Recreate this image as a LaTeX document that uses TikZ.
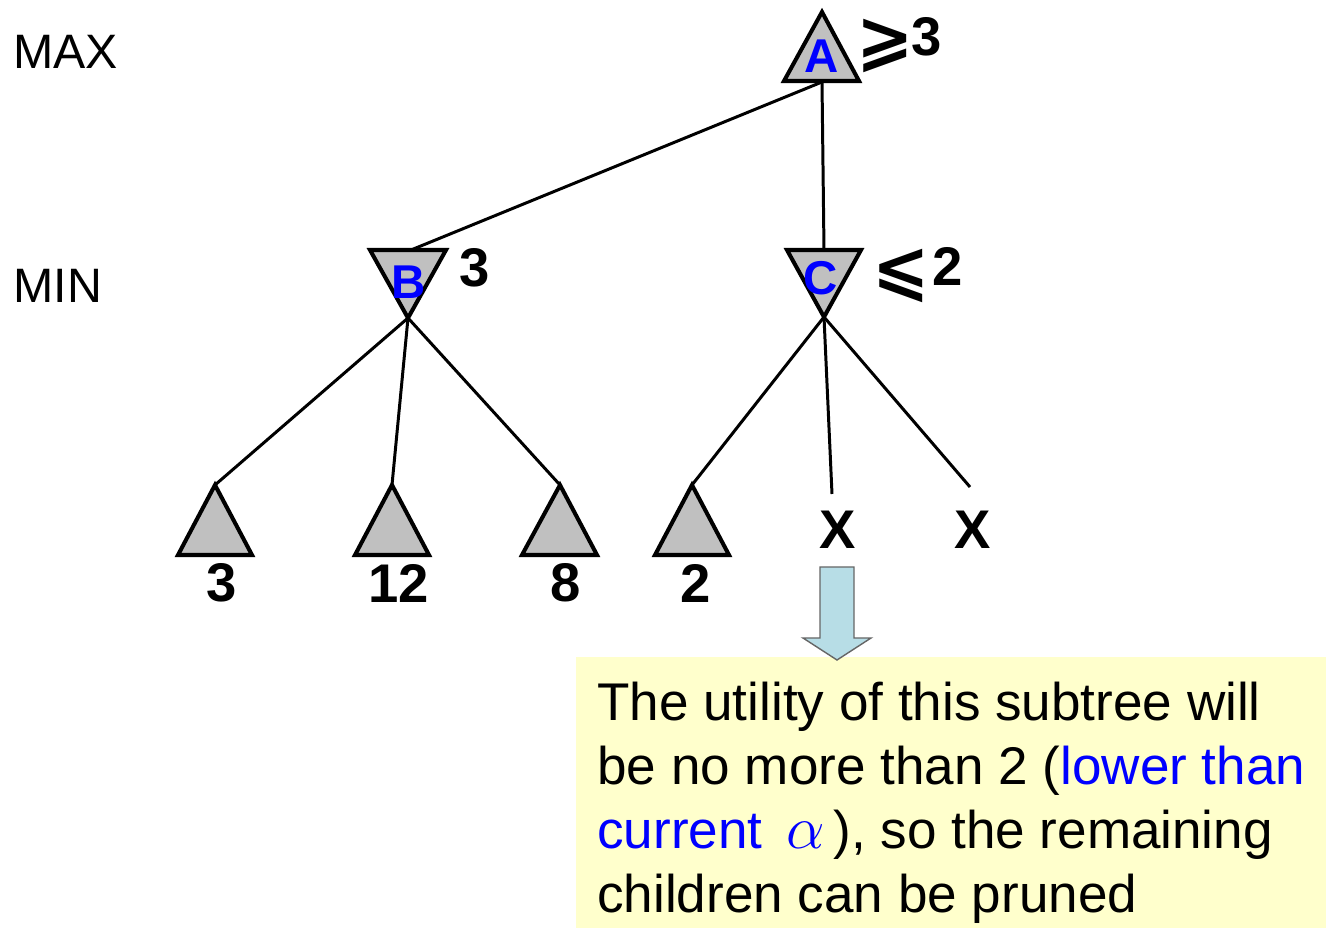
\documentclass[tikz,border=0pt]{standalone}
\usepackage{amsmath}
\usepackage{amssymb}
\usepackage{fontspec}
\setmainfont{Liberation Sans}
\newfontfamily\symbfont{DejaVu Sans}
\usepackage{tikz}
\usetikzlibrary{calc}
\definecolor{trigray}{RGB}{192,192,192}
\definecolor{arrowblue}{RGB}{183,221,230}
\definecolor{noteyellow}{RGB}{255,255,204}

\begin{document}
\begin{tikzpicture}[x=0.02cm,y=-0.02cm,
    tri/.style={fill=trigray,draw=black,line width=2.3pt},
    edge/.style={line width=1.7pt},
    letter/.style={text=blue,font=\fontsize{27}{27}\selectfont\bfseries,inner sep=0},
    value/.style={font=\fontsize{31}{31}\selectfont\bfseries,inner sep=0},
    bound/.style={font=\fontsize{39}{39}\selectfont\symbfont\bfseries,inner sep=0},
    level/.style={font=\fontsize{27.5}{27.5}\selectfont,inner sep=0,anchor=west}]
      \useasboundingbox (0,0) rectangle (1326,928);

      % levels
      \node[level] (max) at (13,52) {MAX};
      \node[level] (min) at (13,286) {MIN};

      % max node
      \filldraw[tri] (784,81) -- (822,12) -- (859,81) -- cycle;
      \coordinate (A) at (822,82);
      \node[letter] (lA) at (822,56) {A};
      \node[bound] (geA) at (885,46) {⩾};
      \node[value] (vA) at (927,37) {3};

      % min nodes
      \filldraw[tri] (370,250) -- (446,250) -- (408,318) -- cycle;
      \coordinate (B) at (411,250);
      \coordinate (Bt) at (408,318);
      \node[letter] (lB) at (409,282) {B};
      \node[value] (vB) at (475,268) {3};

      \filldraw[tri] (787,250) -- (861,250) -- (824,317) -- cycle;
      \coordinate (C) at (824,250);
      \coordinate (Ct) at (824,317);
      \node[letter] (lC) at (821,278) {C};
      \node[bound] (leC) at (901,276) {⩽};
      \node[value] (vC) at (948,266) {2};

      \draw[edge] (A) -- (B);
      \draw[edge] (A) -- (C);

      % leaves
      \coordinate (l1) at (215,485);
      \coordinate (l2) at (392,485);
      \coordinate (l3) at (560,485);
      \coordinate (l4) at (692,485);
      \filldraw[tri] (l1) -- ++(37,70) -- ++(-74,0) -- cycle;
      \filldraw[tri] (l2) -- ++(37,70) -- ++(-74,0) -- cycle;
      \filldraw[tri] (l3) -- ++(37,70) -- ++(-75,0) -- cycle;
      \filldraw[tri] (l4) -- ++(37,70) -- ++(-74,0) -- cycle;
      \node[value] (v1) at (222,583) {3};
      \node[value] (v2) at (399,583) {12};
      \node[value] (v3) at (566,583) {8};
      \node[value] (v4) at (696,583) {2};

      \node[value] (x1) at (838,530) {X};
      \node[value] (x2) at (973,530) {X};
      \coordinate (xe1) at (832,494);
      \coordinate (xe2) at (970,487);

      \draw[edge] (Bt) -- (l1);
      \draw[edge] (Bt) -- (l2);
      \draw[edge] (Bt) -- (l3);
      \draw[edge] (Ct) -- (l4);
      \draw[edge] (Ct) -- (xe1);
      \draw[edge] (Ct) -- (xe2);

      % note
      \fill[noteyellow] (576,657) rectangle (1326,928);
      \node[anchor=north west,inner sep=0,align=left,
            font=\fontsize{30.2}{36.4}\selectfont] (note) at (597,682)
        {The utility of this subtree will\\
         be no more than 2 ({\color{blue}lower than}\\
         {\color{blue}current \,\scalebox{1.4}{$\alpha$}}\,), so the remaining\\
         children can be pruned};

      \coordinate (ar) at (837,567);
      \filldraw[fill=arrowblue,draw=black!60,line width=0.8pt]
        (ar) ++(-17,0) -- ++(34,0) -- ++(0,71) -- ++(17,0) -- ++(-34,22)
        -- ++(-34,-22) -- ++(17,0) -- cycle;
\end{tikzpicture}
\end{document}
